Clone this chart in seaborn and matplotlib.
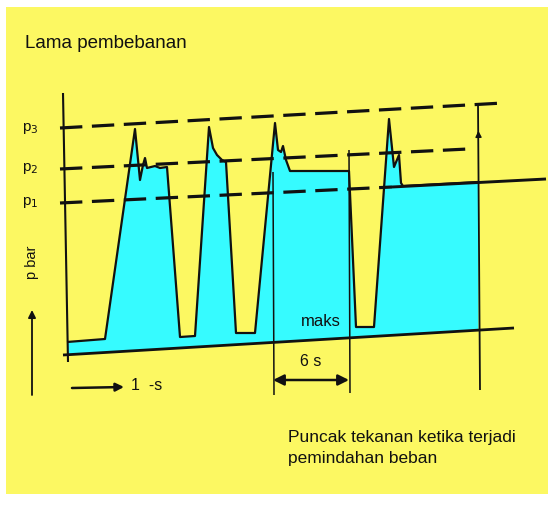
import numpy as np
import pandas as pd
import matplotlib
matplotlib.use("Agg")
import matplotlib.pyplot as plt
import seaborn as sns

# ---- data (schematic units: time axis to the right, pressure axis downwards on the page) ----
curve_t = [67, 105, 135, 140, 143, 145, 147, 155, 160, 167, 180, 195, 209, 213, 217, 222, 226,
           236, 255, 275, 278, 281, 283, 286, 290, 349, 356, 374, 389, 394, 399, 401, 403, 478]
curve_p = [342, 339, 129, 180, 165, 158, 168, 166, 168, 167, 337, 336, 127, 148, 155, 160, 162,
           333, 333, 123, 150, 152, 146, 160, 171, 171, 327, 327, 119, 167, 155, 183, 186, 182]

base_t = [63, 514]
base_p = [355, 328]

p3_t = [60, 503]
p3_p = [128, 103]
p2_t = [60, 468]
p2_p = [169, 149]
p1_dash_t = [60, 392]
p1_dash_p = [203, 187]
p1_solid_t = [392, 546]
p1_solid_p = [187, 179]

axis_t = [63, 68]
axis_p = [93, 362]

end_t = [478, 480]
end_p = [103, 390]
six_left_t = [273, 274]
six_left_p = [172, 395]
six_right_t = [349, 350]
six_right_p = [150, 393]

level_labels = ["p$_3$", "p$_2$", "p$_1$"]
level_label_p = [128, 168, 202]

title_text = "Lama pembebanan"
note_text = "Puncak tekanan ketika terjadi\npemindahan beban"
maks_text = "maks"
six_text = "6 s"
one_text = "1  -s"
pbar_text = "p bar"

YELLOW = "#fcf862"
CYAN = "#36fbff"
INK = "#111111"

sns.set_theme(style="white")
plt.rcParams['font.family'] = ['Liberation Sans', 'DejaVu Sans']

fig = plt.figure(figsize=(5.48, 5.08), dpi=100)
fig.patch.set_facecolor("white")
ax = fig.add_axes([0, 0, 1, 1])
ax.set_xlim(0, 548)
ax.set_ylim(508, 0)
ax.axis("off")

# yellow page
ax.fill_between([6, 548], [7, 7], [494, 494], color=YELLOW, lw=0, zorder=0)

# cyan fill between pressure curve and baseline
ct = np.array(curve_t, float)
cp = np.array(curve_p, float)
bp = np.interp(ct, base_t, base_p)
ax.fill_between(ct, cp, bp, color=CYAN, lw=0, zorder=1)

def line(t, p, lw, dashes=None, color=INK, z=3):
    df = pd.DataFrame({"t": t, "p": p})
    n0 = len(ax.lines)
    sns.lineplot(data=df, x="t", y="p", ax=ax, sort=False, estimator=None,
                 color=color, lw=lw, zorder=z, legend=False)
    ln = ax.lines[n0]
    if dashes is not None:
        ln.set_dashes(dashes)
    ln.set_solid_capstyle("butt")
    return ln

# pressure curve
line(curve_t, curve_p, 1.6)
# right closing edge of fill
line(end_t, end_p, 1.3)
# baseline
line(base_t, base_p, 2.0)
# dashed levels
line(p3_t, p3_p, 2.3, dashes=(7, 3))
line(p2_t, p2_p, 2.3, dashes=(7, 3))
line(p1_dash_t, p1_dash_p, 2.3, dashes=(7, 3))
line(p1_solid_t, p1_solid_p, 2.1)
# vertical axis
line(axis_t, axis_p, 1.5)
# 6 s markers
line(six_left_t, six_left_p, 1.1)
line(six_right_t, six_right_p, 1.1)

ax.set_xlim(0, 548)
ax.set_ylim(508, 0)
ax.set_xlabel("")
ax.set_ylabel("")

# small arrowhead on the end line
ax.annotate("", xy=(478.3, 128), xytext=(478.6, 140),
            arrowprops=dict(arrowstyle="-|>", color=INK, lw=1.0, mutation_scale=9), zorder=4)

# 6 s double arrow
ax.annotate("", xy=(273, 380), xytext=(349, 380),
            arrowprops=dict(arrowstyle="<|-|>", color=INK, lw=1.8, mutation_scale=16,
                            shrinkA=0, shrinkB=0), zorder=4)
# time arrow
ax.annotate("", xy=(124, 387), xytext=(72, 388),
            arrowprops=dict(arrowstyle="-|>", color=INK, lw=1.8, mutation_scale=12,
                            shrinkA=0, shrinkB=0), zorder=4)
# pressure arrow
ax.annotate("", xy=(32, 310), xytext=(32, 395),
            arrowprops=dict(arrowstyle="-|>", color=INK, lw=1.3, mutation_scale=11,
                            shrinkA=0, shrinkB=0), zorder=4)

ax.text(25, 44, title_text, fontsize=13.5, color=INK, ha="left", va="center")
for lab, p in zip(level_labels, level_label_p):
    ax.text(22, p, lab, fontsize=11, color=INK, ha="left", va="center")
ax.text(32, 262, pbar_text, fontsize=10.5, color=INK, rotation=90, ha="center", va="center")
ax.text(288, 448, note_text, fontsize=12.5, color=INK, ha="left", va="center",
        linespacing=1.55)
ax.text(321, 322, maks_text, fontsize=12, color=INK, ha="center", va="center")
ax.text(311, 361, six_text, fontsize=11.5, color=INK, ha="center", va="center")
ax.text(131, 386, one_text, fontsize=11.5, color=INK, ha="left", va="center")

fig.savefig("out.png", dpi=100, facecolor="white")
